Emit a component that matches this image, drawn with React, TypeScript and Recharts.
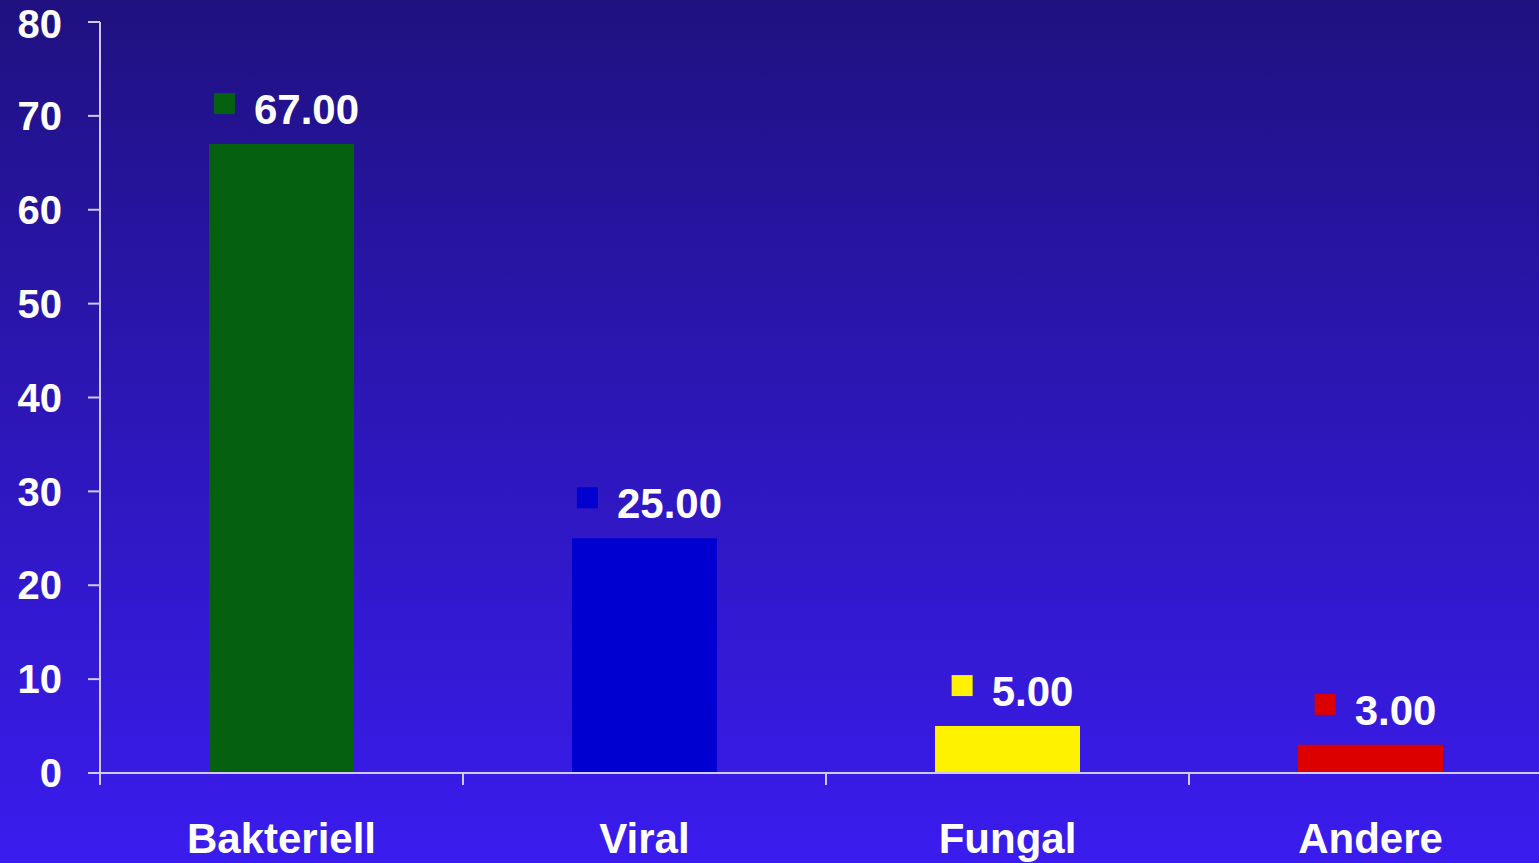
import React from 'react';
import { BarChart, Bar, XAxis, YAxis, Cell, LabelList } from 'recharts';

const categories = ['Bakteriell', 'Viral', 'Fungal', 'Andere'];
const values = [67, 25, 5, 3];
const barColors = ['#056010', '#0000d0', '#fff200', '#dd0000'];
const yTicks = [0, 10, 20, 30, 40, 50, 60, 70, 80];

const data = categories.map((name, i) => ({ name, value: values[i] }));

const FONT = '"Liberation Sans", Arial, sans-serif';
const AXIS_COLOR = '#cfc9f4';
const LABEL_SIZE = 42;

// rough width of a bold Arial number string
const textWidth = (s: string) =>
  s.split('').reduce((w, ch) => w + (ch === '.' ? 0.278 : 0.556), 0) * LABEL_SIZE;

// value label: small coloured square followed by the number, centred over the bar
const ValueLabel = (props: any) => {
  const { x, y, width, value, index } = props;
  const txt = Number(value).toFixed(2);
  const groupW = 40 + textWidth(txt);
  const left = x + width / 2 + 5 - groupW / 2;
  return (
    <g>
      <rect x={left} y={y - 51} width={21} height={21} fill={barColors[index]} />
      <text
        x={left + 40}
        y={y - 20}
        fill="#fff"
        fontFamily={FONT}
        fontWeight="bold"
        fontSize={LABEL_SIZE}
      >
        {txt}
      </text>
    </g>
  );
};

// category tick: label in the band centre, tick mark on the band's left boundary
const CategoryTick = (props: any) => {
  const { x, y, payload, width } = props;
  const half = payload && payload.offset != null ? payload.offset : width / categories.length / 2;
  return (
    <g>
      <line x1={x - half} y1={y} x2={x - half} y2={y + 12} stroke={AXIS_COLOR} strokeWidth={2} />
      <text
        x={x}
        y={y + 80}
        textAnchor="middle"
        fill="#fff"
        fontFamily={FONT}
        fontWeight="bold"
        fontSize={42}
      >
        {payload.value}
      </text>
    </g>
  );
};

export default function App() {
  return (
    <div
      style={{
        position: 'absolute',
        left: 0,
        top: 0,
        width: 1539,
        height: 863,
        overflow: 'hidden',
        background: 'linear-gradient(to bottom, #1f1180 0%, #2c16b4 45%, #3a1cee 100%)',
      }}
    >
      <BarChart
        width={1552}
        height={863}
        data={data}
        margin={{ top: 22, right: 0, left: 0, bottom: 0 }}
      >
        <XAxis
          dataKey="name"
          height={90}
          stroke={AXIS_COLOR}
          strokeWidth={2}
          tickLine={false}
          tickSize={0}
          tickMargin={0}
          tick={<CategoryTick />}
        />
        <YAxis
          width={100}
          domain={[0, 80]}
          ticks={yTicks}
          stroke={AXIS_COLOR}
          strokeWidth={2}
          tickSize={12}
          tickMargin={26}
          tick={{ fill: '#fff', fontSize: 40, fontWeight: 'bold', fontFamily: FONT }}
        />
        <Bar dataKey="value" barSize={145} isAnimationActive={false}>
          {data.map((d, i) => (
            <Cell key={d.name} fill={barColors[i]} />
          ))}
          <LabelList dataKey="value" content={<ValueLabel />} />
        </Bar>
      </BarChart>
    </div>
  );
}
